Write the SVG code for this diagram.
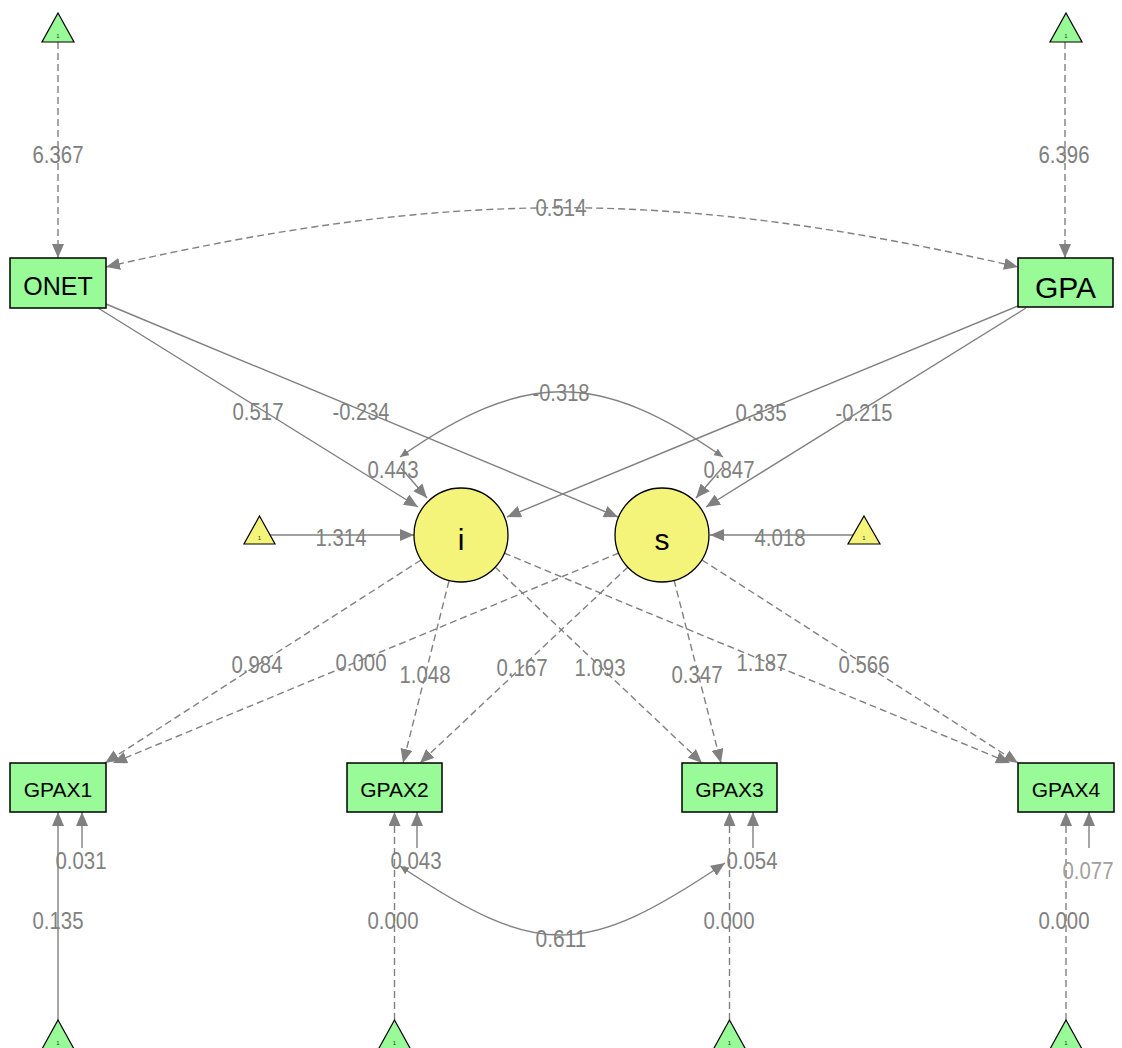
<svg xmlns="http://www.w3.org/2000/svg" width="1122" height="1048" viewBox="0 0 1122 1048">
<style>
.e{fill:none;stroke:#808080;stroke-width:1.4}
.d{stroke-dasharray:7,4}
.box{fill:#98FB98;stroke:#000;stroke-width:1.5}
.lat{fill:#F4F47A;stroke:#000;stroke-width:1.3}
.tg{fill:#98FB98;stroke:#000;stroke-width:1.2}
.ty{fill:#F4F47A;stroke:#000;stroke-width:1.2}
.one{font-family:"Liberation Sans",Arial,sans-serif;font-size:6px;fill:#333;text-anchor:middle}
.nt{font-family:"Liberation Sans",Arial,sans-serif;fill:#000;text-anchor:middle}
.lb{font-family:"Liberation Sans",Arial,sans-serif;font-size:24px;fill:#808080;text-anchor:middle}
</style>
<defs>
<marker id="ah" viewBox="0 0 14 12" refX="14" refY="6" markerWidth="14" markerHeight="12" orient="auto-start-reverse" markerUnits="userSpaceOnUse"><path d="M0,0 L14,6 L0,12 z" fill="#808080"/></marker>
<marker id="as" viewBox="0 0 9 8" refX="9" refY="4" markerWidth="9" markerHeight="8" orient="auto-start-reverse" markerUnits="userSpaceOnUse"><path d="M0,0 L9,4 L0,8 z" fill="#808080"/></marker>
</defs>
<rect width="1122" height="1048" fill="#fff"/>

<g id="connectors">
<path class="e d" d="M58,42 V258" marker-end="url(#ah)"/>
<path class="e d" d="M1065,42 V258" marker-end="url(#ah)"/>
<path class="e d" d="M106,267 C449,188 675,188 1018,267" marker-start="url(#ah)" marker-end="url(#ah)"/>
<path class="e" d="M98,308 L418,507" marker-end="url(#ah)"/>
<path class="e" d="M106,304 L618,517" marker-end="url(#ah)"/>
<path class="e" d="M1018,306 L507,517" marker-end="url(#ah)"/>
<path class="e" d="M1026,308 L706,507" marker-end="url(#ah)"/>
<path class="e" d="M400,457 C524,370 599,370 723,457" marker-start="url(#as)" marker-end="url(#as)"/>
<path class="e" d="M401,468 L427,498" marker-end="url(#ah)"/>
<path class="e" d="M722,468 L696,498" marker-end="url(#ah)"/>
<path class="e" d="M270,535 L414,535" marker-end="url(#ah)"/>
<path class="e" d="M854,535 L710,535" marker-end="url(#ah)"/>
<path class="e d" d="M421,560 L105,763" marker-end="url(#ah)"/>
<path class="e d" d="M619,553 L113,763" marker-end="url(#ah)"/>
<path class="e d" d="M449,581 L403,763" marker-end="url(#ah)"/>
<path class="e d" d="M628,567 L420,763" marker-end="url(#ah)"/>
<path class="e d" d="M495,567 L702,763" marker-end="url(#ah)"/>
<path class="e d" d="M674,580 L721,763" marker-end="url(#ah)"/>
<path class="e d" d="M504,553 L1010,763" marker-end="url(#ah)"/>
<path class="e d" d="M702,560 L1018,763" marker-end="url(#ah)"/>
<path class="e" d="M58,1020 V812" marker-end="url(#ah)"/>
<path class="e d" d="M394.5,1020 V812" marker-end="url(#ah)"/>
<path class="e d" d="M729.5,1020 V812" marker-end="url(#ah)"/>
<path class="e d" d="M1066,1020 V812" marker-end="url(#ah)"/>
<path class="e" d="M82,848 V812" marker-end="url(#ah)"/>
<path class="e" d="M417,848 V812" marker-end="url(#ah)"/>
<path class="e" d="M753,848 V812" marker-end="url(#ah)"/>
<path class="e" d="M1089,848 V812" marker-end="url(#ah)"/>
<path class="e" d="M400,866 C540,960 585,957 725,863" marker-start="url(#as)" marker-end="url(#ah)"/>
</g>

<g id="labels">
<text class="lb" x="58" y="163" textLength="51" lengthAdjust="spacingAndGlyphs">6.367</text>
<text class="lb" x="1064" y="163" textLength="51" lengthAdjust="spacingAndGlyphs">6.396</text>
<text class="lb" x="561" y="216" textLength="51" lengthAdjust="spacingAndGlyphs">0.514</text>
<text class="lb" x="258" y="420" textLength="51" lengthAdjust="spacingAndGlyphs">0.517</text>
<text class="lb" x="361" y="420" textLength="57" lengthAdjust="spacingAndGlyphs">-0.234</text>
<text class="lb" x="561" y="401" textLength="57" lengthAdjust="spacingAndGlyphs">-0.318</text>
<text class="lb" x="761" y="421" textLength="51" lengthAdjust="spacingAndGlyphs">0.335</text>
<text class="lb" x="864" y="421" textLength="57" lengthAdjust="spacingAndGlyphs">-0.215</text>
<text class="lb" x="393" y="478" textLength="51" lengthAdjust="spacingAndGlyphs">0.443</text>
<text class="lb" x="729" y="478" textLength="51" lengthAdjust="spacingAndGlyphs">0.847</text>
<text class="lb" x="341" y="546" textLength="51" lengthAdjust="spacingAndGlyphs">1.314</text>
<text class="lb" x="780" y="546" textLength="51" lengthAdjust="spacingAndGlyphs">4.018</text>
<text class="lb" x="257" y="673" textLength="51" lengthAdjust="spacingAndGlyphs">0.984</text>
<text class="lb" x="361" y="671" textLength="51" lengthAdjust="spacingAndGlyphs">0.000</text>
<text class="lb" x="425" y="683" textLength="51" lengthAdjust="spacingAndGlyphs">1.048</text>
<text class="lb" x="522" y="676" textLength="51" lengthAdjust="spacingAndGlyphs">0.167</text>
<text class="lb" x="600" y="676" textLength="51" lengthAdjust="spacingAndGlyphs">1.093</text>
<text class="lb" x="697" y="683" textLength="51" lengthAdjust="spacingAndGlyphs">0.347</text>
<text class="lb" x="762" y="671" textLength="51" lengthAdjust="spacingAndGlyphs">1.187</text>
<text class="lb" x="864" y="673" textLength="51" lengthAdjust="spacingAndGlyphs">0.566</text>
<text class="lb" x="81" y="869" textLength="51" lengthAdjust="spacingAndGlyphs">0.031</text>
<text class="lb" x="416" y="869" textLength="51" lengthAdjust="spacingAndGlyphs">0.043</text>
<text class="lb" x="752" y="869" textLength="51" lengthAdjust="spacingAndGlyphs">0.054</text>
<text class="lb" x="1088" y="879" textLength="51" lengthAdjust="spacingAndGlyphs" fill="#a0a0a0" style="fill:#a0a0a0">0.077</text>
<text class="lb" x="58" y="929" textLength="51" lengthAdjust="spacingAndGlyphs">0.135</text>
<text class="lb" x="393" y="929" textLength="51" lengthAdjust="spacingAndGlyphs">0.000</text>
<text class="lb" x="729" y="929" textLength="51" lengthAdjust="spacingAndGlyphs">0.000</text>
<text class="lb" x="1064" y="929" textLength="51" lengthAdjust="spacingAndGlyphs">0.000</text>
<text class="lb" x="561" y="947" textLength="51" lengthAdjust="spacingAndGlyphs">0.611</text>
</g>

<g id="int_ONET"><path class="tg" d="M58,13 L74,42 L42,42 z"/><text class="one" x="58" y="38">1</text></g>
<g id="int_GPA"><path class="tg" d="M1066,13 L1082,42 L1050,42 z"/><text class="one" x="1066" y="38">1</text></g>
<g id="int_i"><path class="ty" d="M259.5,516 L275,544 L244,544 z"/><text class="one" x="259.5" y="540">1</text></g>
<g id="int_s"><path class="ty" d="M864,516 L880,544 L848,544 z"/><text class="one" x="864" y="540">1</text></g>
<g id="int_GPAX1"><path class="tg" d="M58,1020 L74,1049 L42,1049 z"/><text class="one" x="58" y="1045">1</text></g>
<g id="int_GPAX2"><path class="tg" d="M394.5,1020 L410.5,1049 L378.5,1049 z"/><text class="one" x="394.5" y="1045">1</text></g>
<g id="int_GPAX3"><path class="tg" d="M729.5,1020 L745.5,1049 L713.5,1049 z"/><text class="one" x="729.5" y="1045">1</text></g>
<g id="int_GPAX4"><path class="tg" d="M1066,1020 L1082,1049 L1050,1049 z"/><text class="one" x="1066" y="1045">1</text></g>

<g id="ONET"><rect class="box" x="10" y="258" width="96" height="50"/><text class="nt" x="58" y="295" font-size="25">ONET</text></g>
<g id="GPA"><rect class="box" x="1018" y="258" width="95" height="49"/><text class="nt" x="1065.5" y="298" font-size="30">GPA</text></g>
<g id="i"><circle class="lat" cx="461" cy="535" r="47"/><text class="nt" x="461" y="550" font-size="30">i</text></g>
<g id="s"><circle class="lat" cx="662" cy="535" r="47"/><text class="nt" x="662" y="550" font-size="30">s</text></g>
<g id="GPAX1"><rect class="box" x="10" y="763" width="96" height="49"/><text class="nt" x="58" y="797" font-size="21">GPAX1</text></g>
<g id="GPAX2"><rect class="box" x="347" y="763" width="95" height="49"/><text class="nt" x="394.5" y="797" font-size="21">GPAX2</text></g>
<g id="GPAX3"><rect class="box" x="682" y="763" width="95" height="49"/><text class="nt" x="729.5" y="797" font-size="21">GPAX3</text></g>
<g id="GPAX4"><rect class="box" x="1018" y="763" width="96" height="49"/><text class="nt" x="1066" y="797" font-size="21">GPAX4</text></g>
</svg>
